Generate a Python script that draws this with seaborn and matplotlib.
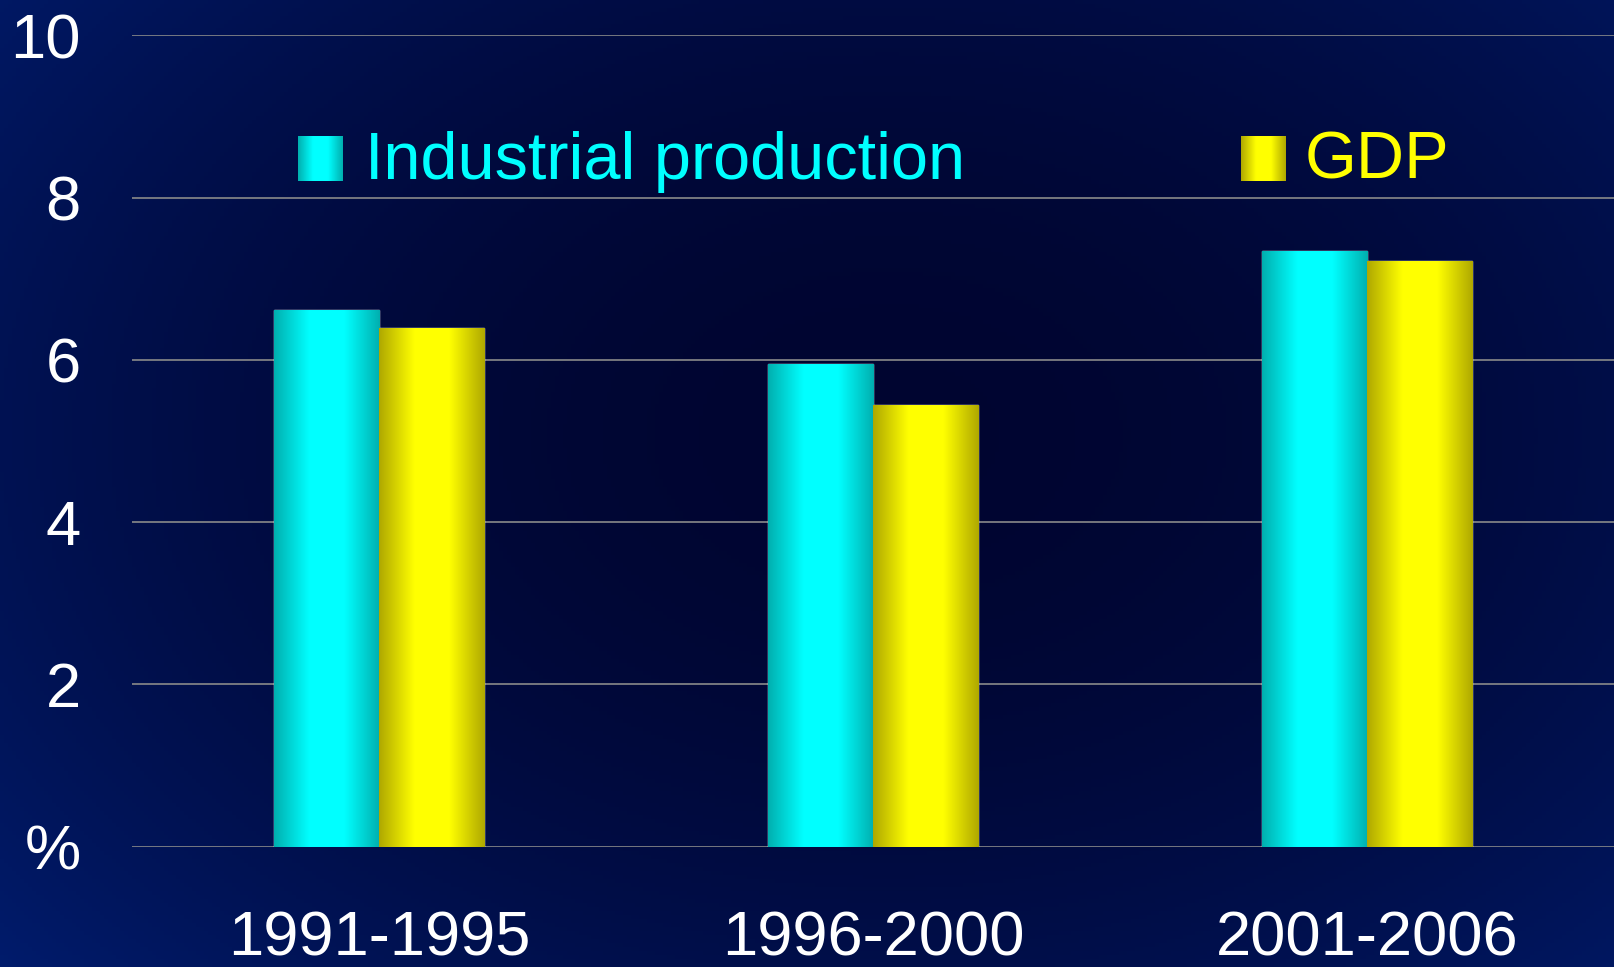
import numpy as np
import pandas as pd
import matplotlib
matplotlib.use("Agg")
import matplotlib.pyplot as plt
import seaborn as sns
from matplotlib.colors import LinearSegmentedColormap

periods = ["1991-1995", "1996-2000", "2001-2006"]
industrial = [6.61, 5.95, 7.34]
gdp = [6.39, 5.44, 7.22]
series_names = ["Industrial production", "GDP"]
y_ticks = [0, 2, 4, 6, 8, 10]
y_ticklabels = ["%", "2", "4", "6", "8", "10"]

df = pd.DataFrame({
    "period": periods * 2,
    "value": industrial + gdp,
    "series": [series_names[0]] * 3 + [series_names[1]] * 3,
})

sns.set_theme(style="dark")
plt.rcParams["font.family"] = ["Liberation Sans", "DejaVu Sans"]

fig = plt.figure(figsize=(16.14, 9.67), dpi=100)

# dark navy background with lighter edges
bg_ax = fig.add_axes([0, 0, 1, 1], zorder=-1)
yy, xx = np.mgrid[0:1:242j, 0:1:404j]
r = np.sqrt(((xx - 0.55) / 0.6) ** 2 + ((yy - 0.45) / 0.7) ** 2)
r = np.clip(r, 0, 1.4)
bg = np.zeros(xx.shape + (3,))
bg[..., 1] = 0.02 + 0.06 * r ** 2
bg[..., 2] = 0.19 + 0.16 * r ** 2
bg = np.clip(bg, 0, 1)
bg_ax.imshow(bg, extent=[0, 1, 0, 1], aspect="auto", origin="upper")
bg_ax.axis("off")

ax = fig.add_axes([0.0818, 0.1244, 0.9182, 0.8391])
ax.set_facecolor("none")

palette = {"Industrial production": "#00FFFF", "GDP": "#FFFF00"}
sns.barplot(data=df, x="period", y="value", hue="series", palette=palette,
            width=0.427, legend=False, ax=ax, zorder=3)

# shaded cylinder-like gradient on each bar
grads = [
    LinearSegmentedColormap.from_list("cy", ["#00AFAF", "#00FFFF", "#00FFFF", "#00AFAF"]),
    LinearSegmentedColormap.from_list("ye", ["#AFA800", "#FFFF00", "#FFFF00", "#AFA800"]),
]
ramp = np.linspace(0, 1, 256)[None, :]
for cont, cmap in zip(ax.containers, grads):
    for p in cont.patches:
        x0, w, h = p.get_x(), p.get_width(), p.get_height()
        im = ax.imshow(ramp, cmap=cmap, extent=[x0, x0 + w, 0, h], aspect="auto", zorder=4)
        im.set_clip_path(p)

ax.set_xlim(-0.5, 2.5)
ax.set_ylim(0, 10)
ax.set_yticks(y_ticks)
ax.set_yticklabels(y_ticklabels)
ax.grid(axis="y", color="#8a8a8a", linewidth=1.2, zorder=1)
ax.grid(axis="x", visible=False)
for s in ax.spines.values():
    s.set_visible(False)
ax.tick_params(axis="y", length=0, pad=37, labelsize=45.5, labelcolor="white")
ax.tick_params(axis="x", length=0, pad=45, labelsize=45.5, labelcolor="white")
ax.set_xlabel("")
ax.set_ylabel("")

# legend drawn by hand with gradient swatches
legend_items = [(0.112, 0.157, 0), (0.748, 0.791, 1)]
for sx, tx, i in legend_items:
    sw = ax.inset_axes([sx, 0.821, 0.0297, 0.055])
    sw.imshow(ramp, cmap=grads[i], aspect="auto")
    sw.axis("off")
    ax.text(tx, 0.844, series_names[i], transform=ax.transAxes, fontsize=48,
            color=palette[series_names[i]], va="center", ha="left")

fig.savefig("out.png", dpi=100)
